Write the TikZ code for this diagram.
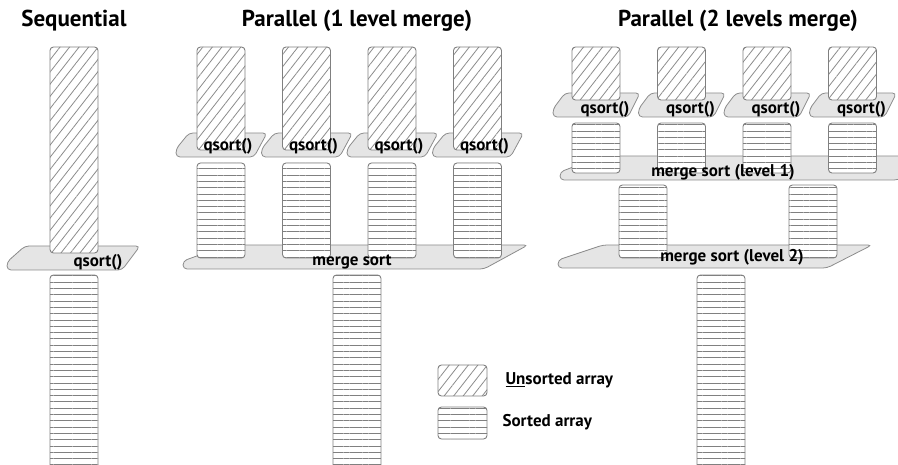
\documentclass[tikz,border=0pt]{standalone}
\usepackage{fontspec}
\setmainfont{PT Sans}
\usetikzlibrary{patterns.meta}

\tikzset{
  unsorted/.style={draw=black!50, line width=0.9pt, rounded corners=3.5pt, preaction={fill=white},
    pattern={Lines[angle=52,distance=7.5pt,line width=0.8pt]}, pattern color=black!45},
  sorted/.style={draw=black!50, line width=0.9pt, rounded corners=3.5pt, preaction={fill=white},
    pattern={Lines[angle=0,distance=6.3pt,line width=1pt]}, pattern color=black!50},
  platform/.style={draw=black!45, line width=0.8pt, fill=black!10, rounded corners=4pt},
  heading/.style={font=\bfseries\fontsize{23}{26}\selectfont, anchor=base},
  opname/.style={font=\bfseries\fontsize{17}{19}\selectfont},
  keytext/.style={font=\bfseries\fontsize{17}{19}\selectfont, anchor=west}
}
% platform: left x, right x, top y, bottom y, slant
\newcommand\platform[5]{\draw[platform] (#1+#5,#3) -- (#2,#3) -- (#2-#5,#4) -- (#1,#4) -- (#1,#4-8) -- cycle;}

\begin{document}
\begin{tikzpicture}[x=1pt,y=-1pt]
\useasboundingbox (0,0) rectangle (898,465);
\clip (0,0) rectangle (898,465);
% Titles
\node [heading] (seqtitle) at (74,27) {Sequential};
\node [heading] (partitle) at (357,27) {Parallel (1 level merge)};
\node [heading] (twotitle) at (738,27) {Parallel (2 levels merge)};

% Sequential: one array, one qsort()
\platform{7}{140}{246}{270}{18}
\draw [unsorted] (50,47) rectangle (98,253);
\node [opname] (seqsort) at (98,262) {qsort()};
\draw [sorted] (50,275) rectangle (98,470);

% Parallel, 1 level merge
\foreach \i in {0,...,3}
  \platform{176+85.5*\i}{267+85.5*\i}{133}{157}{13};
\platform{183}{528}{245}{269}{44}
\foreach \i in {0,...,3} {
  \draw [unsorted] (197+85.5*\i,47) rectangle (245+85.5*\i,150);
  \draw [sorted] (197+85.5*\i,163) rectangle (245+85.5*\i,258);
  \node [opname] (sortA\i) at (228+85.5*\i,146) {qsort()};
}
\node [opname] (mergeA) at (352,262) {merge sort};
\draw [sorted] (333,275) rectangle (381,470);

% Parallel, 2 levels merge
\foreach \i in {0,...,3}
  \platform{553+85.5*\i}{640+85.5*\i}{93}{117}{12};
\platform{560}{940}{156}{180}{42}
\platform{558}{872}{245}{268}{45}
\foreach \i in {0,...,3} {
  \draw [unsorted] (572+85.5*\i,47) rectangle (620+85.5*\i,100);
  \draw [sorted] (572+85.5*\i,123) rectangle (620+85.5*\i,173);
  \node [opname] (sortB\i) at (605+85.5*\i,109) {qsort()};
}
\node [opname] (mergeB) at (723,172) {merge sort (level 1)};
\draw [sorted] (619,185) rectangle (667,258);
\draw [sorted] (789,185) rectangle (837,258);
\node [opname] (mergeC) at (732,257) {merge sort (level 2)};
\draw [sorted] (697,275) rectangle (745,470);

% Legend
\draw [unsorted] (438,365) rectangle (487,396);
\node [keytext] (keyun) at (502,380) {\underline{Un}sorted array};
\draw [sorted] (438,407) rectangle (487,439);
\node [keytext] (keyso) at (499,422) {Sorted array};
\end{tikzpicture}
\end{document}
